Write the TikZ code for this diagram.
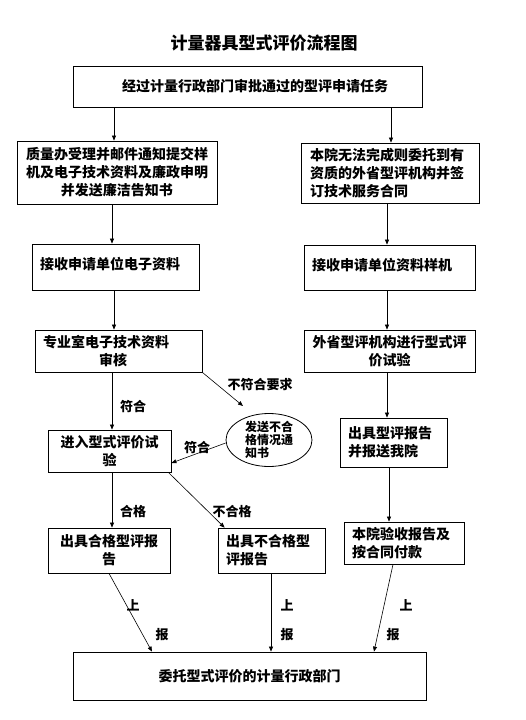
\documentclass[tikz,border=0pt]{standalone}
\usepackage{fontspec}
\newfontfamily\cjk{Noto Sans CJK SC}
\usetikzlibrary{calc,shapes.geometric,arrows.meta}
\begin{document}
\begin{tikzpicture}[x=1pt,y=-1pt,
 box/.style={draw,line width=0.8pt,inner sep=0pt,font=\cjk\bfseries\fontsize{14}{18}\selectfont},
 lbl/.style={font=\cjk\bfseries\fontsize{13}{15}\selectfont,inner sep=0pt},
 arr/.style={line width=0.6pt,-{Triangle[length=5pt,width=4pt]}}]
\useasboundingbox (0,0) rectangle (526,720);
\node[font=\cjk\bfseries\fontsize{17}{20}\selectfont] (title) at (264,43) {计量器具型式评价流程图};
\node[box,minimum width=349pt,minimum height=41pt] (top) at (247.5,86.5) {\hspace*{15pt}经过计量行政部门审批通过的型评申请任务};
\node[box,minimum width=200pt,minimum height=63pt,align=center] (L2) at (117,172.5) {质量办受理并邮件通知提交样\\机及电子技术资料及廉政申明\\并发送廉洁告知书};
\node[box,minimum width=178pt,minimum height=60pt,align=left,text width=160pt] (R2) at (390,173) {本院无法完成则委托到有\\资质的外省型评机构并签\\订技术服务合同};
\node[box,minimum width=167pt,minimum height=46pt,align=left,text width=151pt] (L3) at (115.5,267) {\raisebox{8pt}{接收申请单位电子资料}};
\node[box,minimum width=171pt,minimum height=45pt,align=left,text width=155pt] (R3) at (389.5,267.5) {\raisebox{6pt}{接收申请单位资料样机}};
\node[box,minimum width=167pt,minimum height=42pt,align=left,text width=151pt] (L4) at (118.5,351) {专业室电子技术资料\\\hspace*{56pt}审核};
\node[box,minimum width=171pt,minimum height=42pt,align=center] (R4) at (389.5,351) {外省型评机构进行型式评\\价试验};
\node[box,minimum width=123pt,minimum height=42pt,align=center] (L5) at (109.5,451) {进入型式评价试\\验};
\node[box,minimum width=107pt,minimum height=49pt,align=left,text width=91pt] (R5) at (393.5,442.5) {出具型评报告\\并报送我院};
\node[draw,ellipse,line width=0.8pt,minimum width=86pt,minimum height=50pt,inner sep=0pt,align=left,font=\cjk\bfseries\fontsize{12}{13}\selectfont] (ell) at (269,440) {发送不合\\格情况通\\知书};
\node[box,minimum width=122pt,minimum height=45pt,align=center] (L6) at (109,550.5) {出具合格型评报\\告};
\node[box,minimum width=107pt,minimum height=45pt,align=left,text width=91pt] (M6) at (271.5,550.5) {出具不合格型\\评报告};
\node[box,minimum width=120pt,minimum height=42pt,align=left,text width=104pt] (R6) at (404,543) {本院验收报告及\\按合同付款};
\node[box,minimum width=353pt,minimum height=48pt] (bot) at (249.5,676) {委托型式评价的计量行政部门};
% helper x positions
\coordinate (x112) at (112,0);
\coordinate (x114) at (114,0);
\coordinate (x387) at (387,0);
\coordinate (x389) at (389,0);
\coordinate (x391) at (391,0);
\coordinate (x271) at (271,0);
\coordinate (x152) at (152,0);
\coordinate (x374) at (374,0);
\coordinate (x393) at (393,0);
\coordinate (e1) at (243,406);
% arrows
\draw[arr] (top.south -| x114) -- (L2.north -| x114);
\draw[arr] (top.south -| x391) -- (R2.north -| x391);
\draw[arr] (L2.south -| x112) -- (L3.north -| x112);
\draw[arr] (L3.south -| x114) -- (L4.north -| x114);
\draw[arr] (L4.south -| x112) -- (L5.north -| x112);
\draw[arr] (L5.south -| x112) -- (L6.north -| x112);
\draw[arr] (R2.south -| x387) -- (R3.north -| x387);
\draw[arr] (R3.south -| x387) -- (R4.north -| x387);
\draw[arr] (R4.south -| x387) -- (R5.north -| x387);
\draw[arr] (R5.south -| x389) -- (R6.north -| x389);
\draw[arr] (M6.south -| x271) -- (bot.north -| x271);
\draw[arr] (L4.south east) -- (e1);
\draw[arr] ($(ell.west)+(0,3)$) -- ($(L5.east)+(0,12)$);
\draw[arr] ($(L5.south east)+(-3,0)$) -- ($(M6.north west)+(7,0)$);
\draw[arr] (L6.south) -- (bot.north -| x152);
\draw[arr] (R6.south -| x393) -- (bot.north -| x374);
% labels
\node[lbl] (t1) at (133,407) {符合};
\node[lbl] (t2) at (260,385) {不符合要求};
\node[lbl] (t3) at (197,448) {符合};
\node[lbl] (t4) at (133,512) {合格};
\node[lbl] (t5) at (232,512) {不合格};
\node[lbl] (u1) at (133,605) {上};
\node[lbl] (b1) at (162,635) {报};
\node[lbl] (u2) at (287,605) {上};
\node[lbl] (b2) at (287,635) {报};
\node[lbl] (u3) at (406,605) {上};
\node[lbl] (b3) at (393,635) {报};
\end{tikzpicture}
\end{document}
